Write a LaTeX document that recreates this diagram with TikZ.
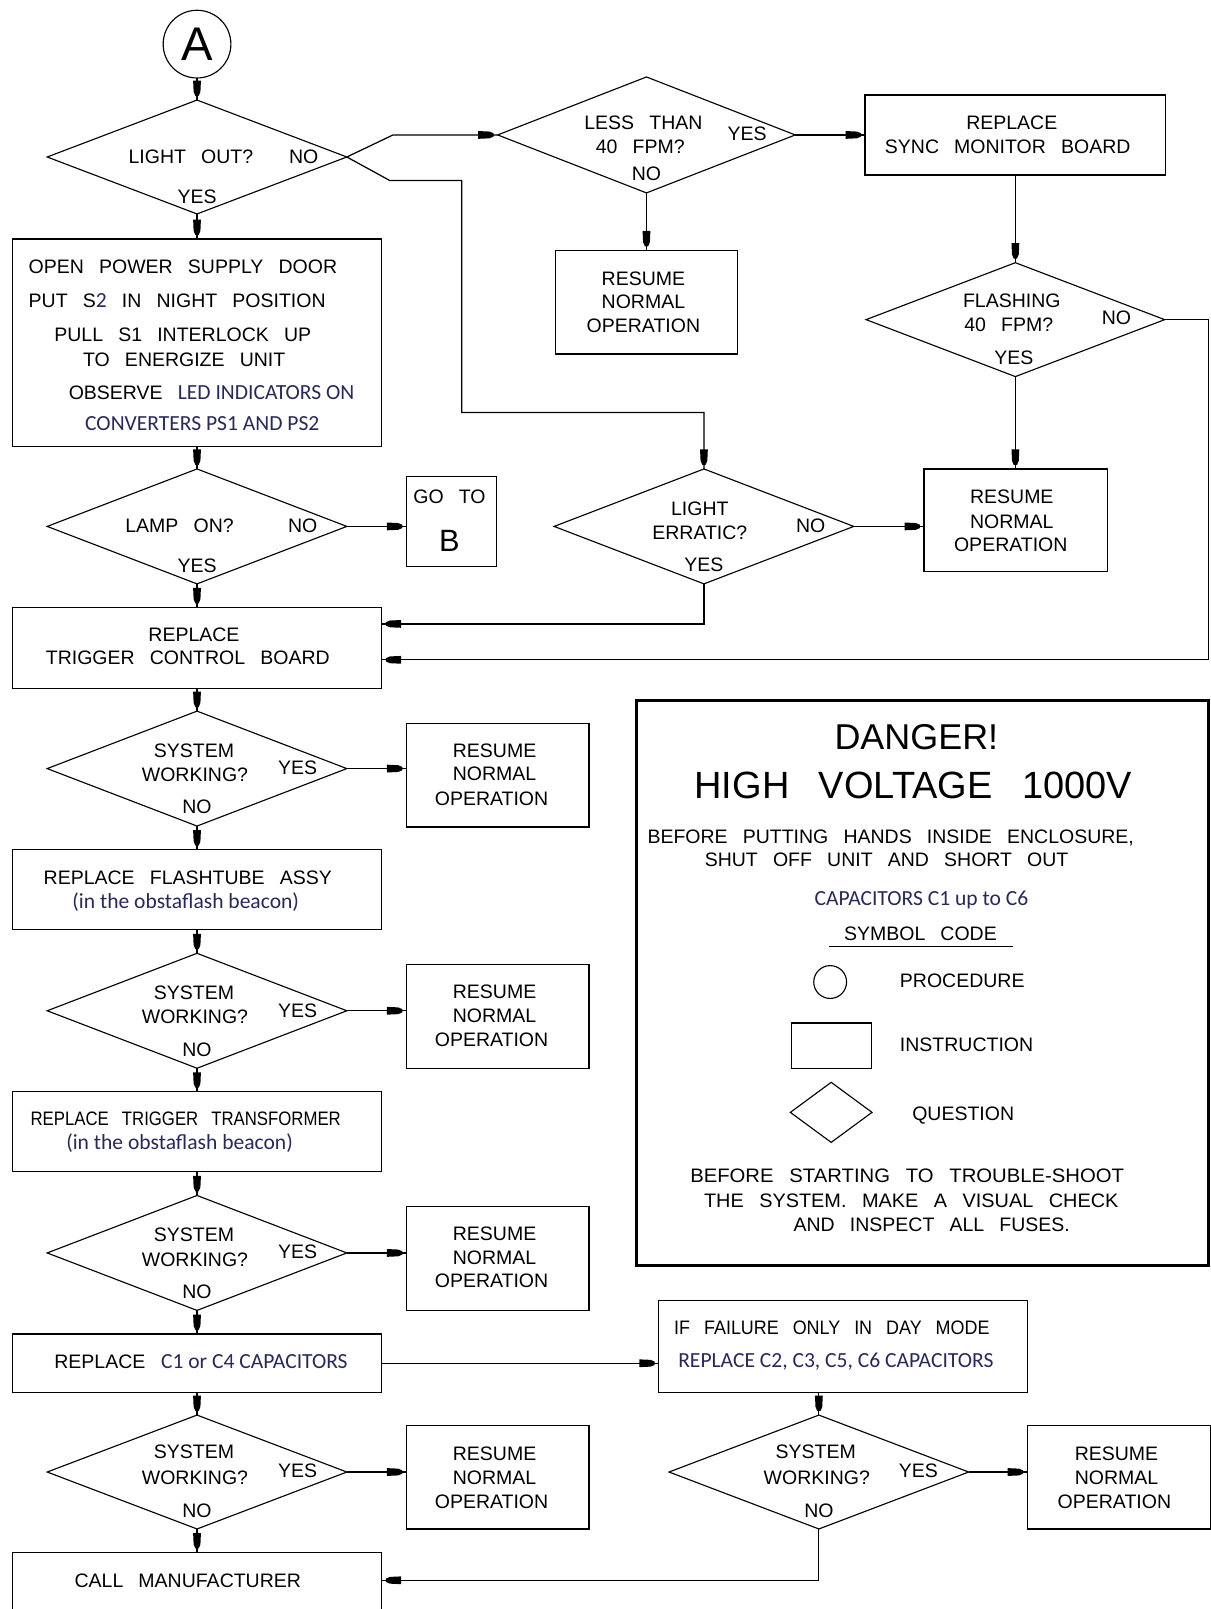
\documentclass[tikz,border=0pt]{standalone}
\usepackage{fontspec}
\setmainfont{Liberation Sans}[WordSpace=2.8]
\newfontfamily\calib{Carlito}
\usetikzlibrary{shapes.geometric,decorations.markings}
\definecolor{ink}{RGB}{40,40,95}
\tikzset{
  bx/.style={draw, line width=1.2pt, rectangle, inner sep=0pt, outer sep=0pt},
  dia/.style={draw, line width=1.1pt, diamond, inner sep=0pt, outer sep=0pt, minimum width=292pt, minimum height=112pt},
  t/.style={inner sep=0pt, outer sep=0pt, text height=13.6pt, text depth=0pt, font=\fontsize{19}{22}\selectfont},
  ct/.style={inner sep=0pt, outer sep=0pt, text height=13.5pt, text depth=0pt, font=\fontsize{21}{24}\selectfont\calib, text=ink},
  con/.style={line width=1.2pt, postaction={decorate}, decoration={markings, mark=at position -4pt with {\fill (-15pt,-3.8pt) -- (-4pt,-3.3pt) -- (0pt,-1.6pt) -- (0pt,1.6pt) -- (-4pt,3.3pt) -- (-15pt,3.8pt) -- cycle;}}},
  ln/.style={line width=1.2pt}
}
\begin{document}
\begin{tikzpicture}[x=1pt,y=-1pt]
\useasboundingbox (0,0) rectangle (1180,1568);
\fill[white] (0,0) rectangle (1180,1568);

% ---------- left column ----------
\node[draw, circle, line width=1.1pt, minimum size=66pt, inner sep=0pt, outer sep=0pt, font=\fontsize{46}{46}\selectfont] (A) at (192,43) {A};

\node[dia, minimum height=111pt] (d1) at (192,153) {};
\node[t] (d1a) at (186,153) {LIGHT OUT?};
\node[t] (d1n) at (296,153) {NO};
\node[t] (d1y) at (192,192) {YES};

\node[bx, minimum width=360pt, minimum height=202pt] (b1) at (192,334) {};
\node[t, anchor=west] (b1l1) at (28,260) {OPEN POWER SUPPLY DOOR};
\node[t, anchor=west] (b1l2) at (28,293) {PUT S{\calib\color{ink}\fontsize{21}{24}\selectfont 2} IN NIGHT POSITION};
\node[t, anchor=west] (b1l3) at (53,326) {PULL S1 INTERLOCK UP};
\node[t, anchor=west] (b1l4) at (81,350) {TO ENERGIZE UNIT};
\node[t, anchor=west] (b1l5) at (67,383) {OBSERVE {\calib\color{ink}\fontsize{21}{24}\selectfont LED INDICATORS ON}};
\node[ct, anchor=west] (b1l6) at (83,413) {CONVERTERS PS1 AND PS2};

\node[dia] (d2) at (192,513) {};
\node[t] (d2a) at (175,512) {LAMP ON?};
\node[t] (d2n) at (295,512) {NO};
\node[t] (d2y) at (192,551) {YES};

\node[bx, minimum width=88pt, minimum height=88pt] (gob) at (440,508) {};
\node[t] (gobt) at (438,484) {GO TO};
\node[inner sep=0pt, text height=22pt, text depth=0pt, font=\fontsize{30}{30}\selectfont] (gobb) at (438,526) {B};

\node[bx, minimum width=360pt, minimum height=79pt] (trig) at (192,631.5) {};
\node[t] (trig1) at (189,618) {REPLACE};
\node[t] (trig2) at (183,641) {TRIGGER CONTROL BOARD};

\node[dia] (d3) at (192,749) {};
\node[t] (d3a) at (189,731) {SYSTEM};
\node[t] (d3b) at (190,755) {WORKING?};
\node[t] (d3y) at (290,748) {YES};
\node[t] (d3n) at (192,786) {NO};
\node[bx, minimum width=178pt, minimum height=101pt] (r3) at (485,755.5) {};
\node[t] (r3a) at (482,731) {RESUME};
\node[t] (r3b) at (482,754) {NORMAL};
\node[t] (r3c) at (479,778) {OPERATION};

\node[bx, minimum width=360pt, minimum height=78pt] (ft) at (192,867) {};
\node[t] (fta) at (183,855) {REPLACE FLASHTUBE ASSY};
\node[ct] (ftb) at (181,879) {(in the obstaflash beacon)};

\node[dia] (d4) at (192,985) {};
\node[t] (d4a) at (189,967) {SYSTEM};
\node[t] (d4b) at (190,991) {WORKING?};
\node[t] (d4y) at (290,985) {YES};
\node[t] (d4n) at (192,1023) {NO};
\node[bx, minimum width=178pt, minimum height=101pt] (r4) at (485,990.5) {};
\node[t] (r4a) at (482,966) {RESUME};
\node[t] (r4b) at (482,990) {NORMAL};
\node[t] (r4c) at (479,1013) {OPERATION};

\node[bx, minimum width=360pt, minimum height=78pt] (tt) at (192,1103) {};
\node[t] (tta) at (181,1090) {\scalebox{0.86}[1]{REPLACE TRIGGER TRANSFORMER}};
\node[ct] (ttb) at (175,1113) {(in the obstaflash beacon)};

\node[dia] (d5) at (192,1221) {};
\node[t] (d5a) at (189,1203) {SYSTEM};
\node[t] (d5b) at (190,1227) {WORKING?};
\node[t] (d5y) at (290,1220) {YES};
\node[t] (d5n) at (192,1259) {NO};
\node[bx, minimum width=178pt, minimum height=101pt] (r5) at (485,1226.5) {};
\node[t] (r5a) at (482,1202) {RESUME};
\node[t] (r5b) at (482,1225) {NORMAL};
\node[t] (r5c) at (479,1248) {OPERATION};

\node[bx, minimum width=360pt, minimum height=57pt] (cb) at (192,1328.5) {};
\node[t, anchor=west] (cba) at (53,1327) {REPLACE};
\node[ct, anchor=west] (cbb) at (157,1327) {C1 or C4 CAPACITORS};

\node[dia, minimum height=111pt] (d6) at (192,1434.5) {};
\node[t] (d6a) at (189,1415) {SYSTEM};
\node[t] (d6b) at (190,1440) {WORKING?};
\node[t] (d6y) at (290,1433) {YES};
\node[t] (d6n) at (192,1472) {NO};
\node[bx, minimum width=178pt, minimum height=101pt] (r6) at (485,1439.5) {};
\node[t] (r6a) at (482,1416) {RESUME};
\node[t] (r6b) at (482,1440) {NORMAL};
\node[t] (r6c) at (479,1463) {OPERATION};

\node[bx, minimum width=360pt, minimum height=120pt] (call) at (192,1573) {};
\node[t] (callt) at (183,1540) {CALL MANUFACTURER};

% ---------- upper right ----------
\node[dia, minimum width=290pt, minimum height=113pt] (less) at (630,131.5) {};
\node[t] (lessa) at (627,119) {LESS THAN};
\node[t] (lessb) at (624,143) {40 FPM?};
\node[t] (lessn) at (630,169) {NO};
\node[t] (lessy) at (728,130) {YES};

\node[bx, minimum width=178pt, minimum height=101pt] (r1) at (630,294.5) {};
\node[t] (r1a) at (627,271) {RESUME};
\node[t] (r1b) at (627,294) {NORMAL};
\node[t] (r1c) at (627,317) {OPERATION};

\node[bx, minimum width=293pt, minimum height=78pt] (sync) at (989.5,131.5) {};
\node[t] (synca) at (986,119) {REPLACE};
\node[t] (syncb) at (982,143) {SYNC MONITOR BOARD};

\node[dia, minimum width=291pt, minimum height=111pt] (flash) at (989.5,311.5) {};
\node[t] (flasha) at (986,293) {FLASHING};
\node[t] (flashb) at (983,316) {40 FPM?};
\node[t] (flashy) at (988,348) {YES};
\node[t] (flashn) at (1088,309) {NO};

\node[bx, minimum width=179pt, minimum height=100pt] (r2) at (990,507) {};
\node[t] (r2a) at (986,484) {RESUME};
\node[t] (r2b) at (986,508) {NORMAL};
\node[t] (r2c) at (985,531) {OPERATION};

\node[dia] (err) at (686,513) {};
\node[t] (erra) at (682,496) {LIGHT};
\node[t] (errb) at (682,519) {ERRATIC?};
\node[t] (errn) at (790,512) {NO};
\node[t] (erry) at (686,550) {YES};

% ---------- danger panel ----------
\node[draw, line width=3pt, minimum width=558pt, minimum height=550pt, inner sep=0pt] (danger) at (899,958) {};
\node[inner sep=0pt, text height=24pt, text depth=0pt, font=\fontsize{35}{35}\selectfont] (dg1) at (893,718) {DANGER!};
\node[inner sep=0pt, text height=26pt, text depth=0pt, font=\fontsize{37}{37}\selectfont] (dg2) at (890,765) {HIGH VOLTAGE 1000V};
\node[t] (dg3) at (868,815) {BEFORE PUTTING HANDS INSIDE ENCLOSURE,};
\node[t] (dg4) at (864,838) {SHUT OFF UNIT AND SHORT OUT};
\node[ct] (dg5) at (898,876) {CAPACITORS C1 up to C6};
\node[t] (dg6) at (897,910) {SYMBOL CODE};
\coordinate (ul1) at (808,922);
\coordinate (ul2) at (987,922);
\draw[ln] (ul1) -- (ul2);
\node[draw, circle, line width=1.1pt, minimum size=32pt, inner sep=0pt] (symc) at (809,957) {};
\node[t, anchor=west] (symct) at (877,956) {PROCEDURE};
\node[bx, minimum width=78pt, minimum height=44pt] (symr) at (810,1019) {};
\node[t, anchor=west] (symrt) at (877,1018) {INSTRUCTION};
\node[draw, diamond, line width=1.1pt, inner sep=0pt, minimum width=80pt, minimum height=59pt] (symd) at (810,1084) {};
\node[t, anchor=west] (symdt) at (889,1085) {QUESTION};
\node[t] (dg7) at (884,1146) {\scalebox{1.04}[1]{BEFORE STARTING TO TROUBLE-SHOOT}};
\node[t] (dg8) at (888,1170) {\scalebox{1.02}[1]{THE SYSTEM. MAKE A VISUAL CHECK}};
\node[t] (dg9) at (908,1193) {AND INSPECT ALL FUSES.};

% ---------- lower right ----------
\node[bx, minimum width=359pt, minimum height=90pt] (iff) at (821.5,1312) {};
\node[t, anchor=west] (iffa) at (657,1294) {\scalebox{0.92}[1]{IF FAILURE ONLY IN DAY MODE}};
\node[ct, anchor=west] (iffb) at (661,1326) {REPLACE C2, C3, C5, C6 CAPACITORS};

\node[dia, minimum height=111pt] (d7) at (798,1434.5) {};
\node[t] (d7a) at (795,1415) {SYSTEM};
\node[t] (d7b) at (796,1440) {WORKING?};
\node[t] (d7y) at (895,1433) {YES};
\node[t] (d7n) at (798,1472) {NO};
\node[bx, minimum width=179pt, minimum height=101pt] (r7) at (1090.5,1439.5) {};
\node[t] (r7a) at (1088,1416) {RESUME};
\node[t] (r7b) at (1088,1440) {NORMAL};
\node[t] (r7c) at (1086,1463) {OPERATION};

% ---------- coordinates ----------
\coordinate (k1) at (383,131.5);
\coordinate (k2) at (380,176);
\coordinate (k3) at (450,176);
\coordinate (k4) at (450,402);
\coordinate (k5) at (686,402);
\coordinate (k6) at (1178,311.5);
\coordinate (k7) at (1178,643);
\coordinate (k8) at (686,608);
\coordinate (k9) at (798,1540);

% ---------- connectors ----------
\draw[con] (A) -- (d1.north);
\draw[con] (d1.south) -- (b1.north);
\draw[con] (d1.east) -- (k1) -- (less.west);
\draw[con] (d1.east) -- (k2) -- (k3) -- (k4) -- (k5) -- (err.north);
\draw[con] (less.east) -- (less.east -| sync.west);
\draw[con] (less.south) -- (r1.north);
\draw[con] (sync.south) -- (flash.north);
\draw[con] (flash.south) -- (flash.south |- r2.north);
\draw[con] (flash.east) -- (k6) -- (k7) -- (k7 -| trig.east);
\draw[con] (err.east) -- (err.east -| r2.west);
\draw[con] (err.south) -- (k8) -- (k8 -| trig.east);
\draw[con] (b1.south) -- (d2.north);
\draw[con] (d2.east) -- (d2.east -| gob.west);
\draw[con] (d2.south) -- (trig.north);
\draw[con] (trig.south) -- (d3.north);
\draw[con] (d3.east) -- (d3.east -| r3.west);
\draw[con] (d3.south) -- (ft.north);
\draw[con] (ft.south) -- (d4.north);
\draw[con] (d4.east) -- (d4.east -| r4.west);
\draw[con] (d4.south) -- (tt.north);
\draw[con] (tt.south) -- (d5.north);
\draw[con] (d5.east) -- (d5.east -| r5.west);
\draw[con] (d5.south) -- (cb.north);
\draw[con] (cb.east) -- (cb.east -| iff.west);
\draw[con] (cb.south) -- (d6.north);
\draw[con] (d6.east) -- (d6.east -| r6.west);
\draw[con] (d6.south) -- (call.north);
\draw[con] (d7.north |- iff.south) -- (d7.north);
\draw[con] (d7.east) -- (d7.east -| r7.west);
\draw[con] (d7.south) -- (k9) -- (k9 -| call.east);
\end{tikzpicture}
\end{document}
